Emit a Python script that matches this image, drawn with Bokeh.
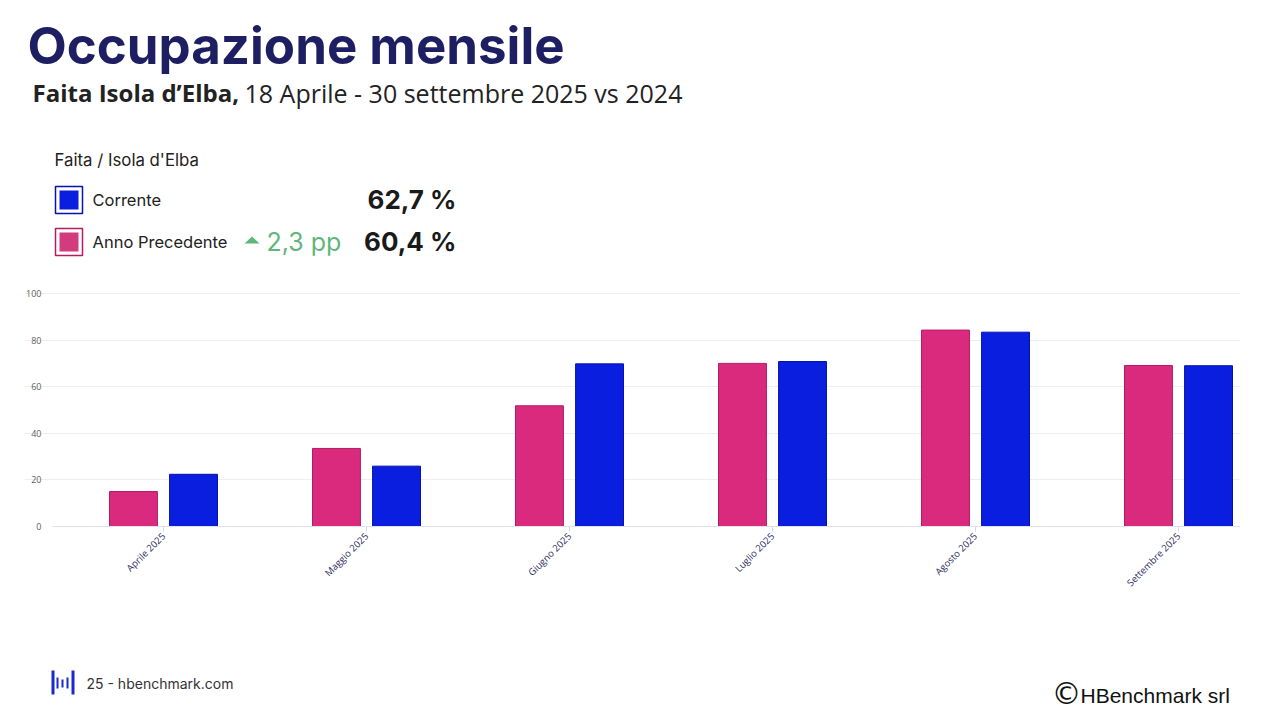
from bokeh.plotting import figure
from bokeh.models import (ColumnDataSource, Label, BoxAnnotation, PolyAnnotation,
                          FixedTicker, Range1d)
from bokeh.transform import dodge
from bokeh.embed import file_html
from bokeh.resources import INLINE

# ---- data ----
months = ["Aprile 2025", "Maggio 2025", "Giugno 2025", "Luglio 2025", "Agosto 2025", "Settembre 2025"]
anno_precedente = [15.0, 33.5, 51.8, 70.0, 84.3, 69.1]
corrente = [22.4, 25.9, 69.8, 70.8, 83.4, 69.0]
y_ticks = [0, 20, 40, 60, 80, 100]

title = "Occupazione mensile"
subtitle_bold = "Faita Isola d\u2019Elba,"
subtitle_rest = "18 Aprile - 30 settembre 2025 vs 2024"
legend_title = "Faita / Isola d'Elba"
series_names = ["Corrente", "Anno Precedente"]
kpi_values = ["62,7 %", "60,4 %"]
kpi_delta = "2,3 pp"
footer_left = "25 - hbenchmark.com"
footer_right = "HBenchmark srl"

PINK = "#d92a7d"
PINK_LINE = "#b31b62"
BLUE = "#0a1ee0"
BLUE_LINE = "#0612a8"
NAVY = "#1e1f62"
GREEN = "#5fb67a"

W, H = 1278, 718
FL, FR = 24, 1240          # frame left/right in page px
X0, DX = 163, 203          # pixel of first category, px per category
Y0, KY = 526, 2.33         # pixel of y=0, px per unit
AXIS_LEFT = 52

x_start = (FL - X0) / DX
x_end = (FR - X0) / DX
y_end = Y0 / KY
y_start = (Y0 - H) / KY

src = ColumnDataSource(dict(x=list(range(len(months))), prev=anno_precedente, curr=corrente))

p = figure(width=W, height=H, output_backend="svg", toolbar_location=None,
           x_range=Range1d(x_start, x_end), y_range=Range1d(y_start, y_end),
           min_border_left=FL, min_border_right=W - FR,
           min_border_top=0, min_border_bottom=0)
p.outline_line_color = None
p.background_fill_color = "white"
p.border_fill_color = "white"

p.vbar(x=dodge("x", -0.148), top="prev", width=0.236, source=src,
       fill_color=PINK, line_color=PINK_LINE, line_width=1)
p.vbar(x=dodge("x", 0.148), top="curr", width=0.236, source=src,
       fill_color=BLUE, line_color=BLUE_LINE, line_width=1)

# axes (fixed inside the frame)
p.xaxis.fixed_location = 0
p.xaxis.bounds = ((AXIS_LEFT - X0) / DX, x_end)
p.xaxis.ticker = FixedTicker(ticks=list(range(len(months))))
p.xaxis.major_label_overrides = {i: m for i, m in enumerate(months)}
p.xaxis.major_label_orientation = 0.785
p.xaxis.major_label_text_font = "Open Sans"
p.xaxis.major_label_text_font_size = "9.5px"
p.xaxis.major_label_text_color = "#2c2d5c"
p.xaxis.axis_line_color = "#dfe2ec"
p.xaxis.major_tick_line_color = "#d4d8e4"
p.xaxis.major_tick_out = 5
p.xaxis.major_tick_in = 0
p.xaxis.minor_tick_line_color = None
p.xaxis.major_label_standoff = 3

p.yaxis.fixed_location = (AXIS_LEFT - X0) / DX
p.yaxis.bounds = (0, 100)
p.yaxis.ticker = FixedTicker(ticks=y_ticks)
p.yaxis.axis_line_color = None
p.yaxis.major_tick_line_color = None
p.yaxis.minor_tick_line_color = None
p.yaxis.major_tick_out = 0
p.yaxis.major_label_text_font = "Open Sans"
p.yaxis.major_label_text_font_size = "9px"
p.yaxis.major_label_text_color = "#5e5e5e"
p.yaxis.major_label_standoff = 11

p.xgrid.grid_line_color = None
p.ygrid.grid_line_color = "#eeeeee"
p.ygrid.ticker = FixedTicker(ticks=y_ticks[1:])

BASE_K = 0.36  # empirical shift between requested and drawn baseline


def lab(px, py, text, size, color="#222222", style="normal", font="Inter",
        align="left"):
    p.add_layout(Label(x=px - FL, y=H - (py - BASE_K * size),
                       x_units="screen", y_units="screen",
                       text=text, text_font=font, text_font_size=f"{size}px",
                       text_color=color, text_font_style=style,
                       text_align=align, text_baseline="alphabetic"))


def box(l, t, r, b, fill, line=None, lw=0):
    p.add_layout(BoxAnnotation(left=l - FL, right=r - FL, top=H - t, bottom=H - b,
                               left_units="screen", right_units="screen",
                               top_units="screen", bottom_units="screen",
                               fill_color=fill, fill_alpha=1.0,
                               line_color=line, line_width=lw, line_alpha=1.0))


# header
lab(27, 63, title, 51, NAVY, "bold", "Inter")
lab(32, 101, subtitle_bold, 24, "#222222", "bold", "Open Sans")
lab(244, 101, subtitle_rest, 25, "#222222", "normal", "Open Sans")

# legend block
lab(54, 166, legend_title, 16.8, "#222222")
box(55, 186, 82, 213, "white", BLUE_LINE, 1.5)
box(59, 190, 78, 209, BLUE)
box(55, 228, 82, 255, "white", PINK_LINE, 1.5)
box(59, 232, 78, 251, "#d23c7f")
lab(92, 205, series_names[0], 16.5, "#222222")
lab(92, 247, series_names[1], 16.5, "#222222")
lab(456, 208, kpi_values[0], 26, "#1a1a1a", "bold", align="right")
lab(456, 250, kpi_values[1], 26, "#1a1a1a", "bold", align="right")
p.add_layout(PolyAnnotation(xs=[244 - FL, 259 - FL, 251.5 - FL], ys=[H - 243, H - 243, H - 236],
                            xs_units="screen", ys_units="screen",
                            fill_color=GREEN, fill_alpha=1.0, line_color=None))
lab(266, 250, kpi_delta, 25, GREEN)

# footer
for (l, t, r, b) in [(51, 670, 54, 694), (56, 677, 58, 688), (61, 679, 63, 687),
                     (66, 677, 68, 688), (71, 670, 74, 694)]:
    box(l, t, r, b, "#1b2ad0")
lab(86, 688, footer_left, 14, "#333333")
lab(1051, 704, "\u00A9", 30, "#111111", font="DejaVu Sans")
lab(1080, 703, footer_right, 21, "#111111", font="Liberation Sans")

open("out.html", "w").write(file_html(p, INLINE))
